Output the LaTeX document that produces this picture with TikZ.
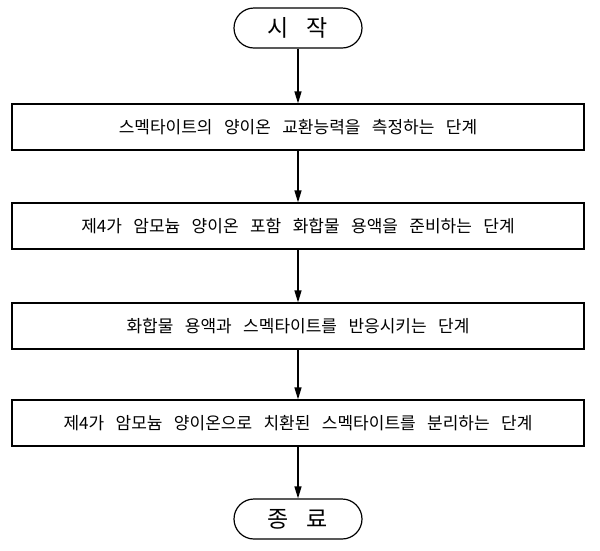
\documentclass[tikz,border=0pt]{standalone}
\usepackage{fontspec}
\newfontfamily\kofont[WordSpace=3]{Noto Sans CJK KR}
\usetikzlibrary{arrows.meta,positioning}
\tikzset{
  terminal/.style = {rectangle, rounded corners=20pt, draw, line width=1.2pt,
                     minimum width=128pt, minimum height=40pt, font=\kofont\fontsize{23}{24}\selectfont},
  stepbox/.style  = {rectangle, draw, line width=1.2pt, minimum width=572pt,
                     minimum height=46pt, font=\kofont\fontsize{17}{18}\selectfont},
  flow/.style     = {-{Triangle[length=12pt,width=7pt]}, line width=1.2pt}
}
\begin{document}
\begin{tikzpicture}[x=1pt,y=1pt]
  \useasboundingbox (0,0) rectangle (600,-550);
  \node (start) [terminal] at (298,-28) {시\hspace{18pt}작};
  \node (s1) [stepbox] at (298,-127) {스멕타이트의 양이온 교환능력을 측정하는 단계};
  \node (s2) [stepbox] at (298,-226) {제4가 암모늄 양이온 포함 화합물 용액을 준비하는 단계};
  \node (s3) [stepbox] at (298,-326) {화합물 용액과 스멕타이트를 반응시키는 단계};
  \node (s4) [stepbox] at (298,-423) {제4가 암모늄 양이온으로 치환된 스멕타이트를 분리하는 단계};
  \node (stop) [terminal] at (298,-519) {종\hspace{18pt}료};

  \draw[flow] (start) -- (s1);
  \draw[flow] (s1) -- (s2);
  \draw[flow] (s2) -- (s3);
  \draw[flow] (s3) -- (s4);
  \draw[flow] (s4) -- (stop);
\end{tikzpicture}
\end{document}
